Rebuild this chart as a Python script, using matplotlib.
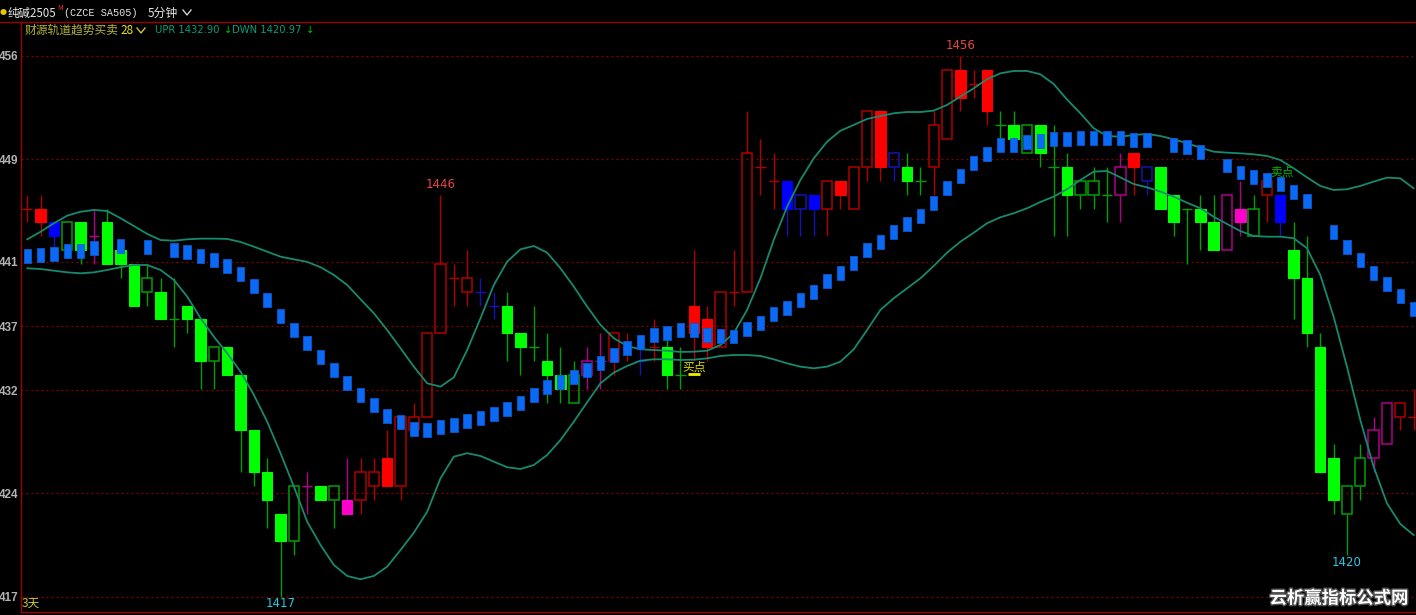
import numpy as np
import matplotlib
matplotlib.use("Agg")
import matplotlib.pyplot as plt
from matplotlib.lines import Line2D
import matplotlib.patheffects as pe

plt.rcParams["font.family"] = ["Noto Sans CJK SC", "DejaVu Sans"]

# K线数据 (纯碱2505 5分钟)
opens = [1445, 1445, 1444, 1442, 1444, 1443, 1444, 1442, 1441, 1439,
         1439, 1437, 1438, 1437, 1434, 1435, 1433, 1429, 1426, 1423,
         1421, 1425, 1425, 1424, 1424, 1424, 1425, 1427, 1425, 1429,
         1430, 1436, 1440, 1439, 1439, 1438, 1438, 1436, 1435, 1434,
         1433, 1431, 1433, 1434, 1434, 1435, 1434, 1435, 1435, 1433,
         1438, 1437, 1435, 1439, 1439, 1448, 1447, 1447, 1445, 1446,
         1445, 1447, 1445, 1448, 1452, 1448, 1448, 1447, 1448, 1450,
         1455, 1454, 1455, 1451, 1451, 1449, 1451, 1448, 1448, 1446,
         1446, 1446, 1446, 1449, 1447, 1448, 1446, 1445, 1445, 1444,
         1442, 1445, 1443, 1446, 1446, 1442, 1440, 1435, 1427, 1423,
         1425, 1427, 1428, 1430, 1430]
closes = [1445, 1444, 1443, 1444, 1442, 1443, 1441, 1441, 1438, 1440,
          1437, 1437, 1437, 1434, 1435, 1433, 1429, 1426, 1424, 1421,
          1425, 1425, 1424, 1425, 1423, 1426, 1426, 1425, 1430, 1430,
          1436, 1441, 1440, 1440, 1439, 1438, 1436, 1435, 1435, 1433,
          1432, 1433, 1434, 1434, 1436, 1435, 1434, 1435, 1433, 1433,
          1436, 1435, 1439, 1439, 1449, 1448, 1447, 1445, 1446, 1445,
          1447, 1446, 1448, 1452, 1448, 1449, 1447, 1447, 1451, 1455,
          1453, 1454, 1452, 1451, 1450, 1451, 1449, 1448, 1446, 1447,
          1447, 1446, 1448, 1448, 1448, 1445, 1444, 1445, 1444, 1442,
          1446, 1444, 1445, 1447, 1444, 1440, 1436, 1426, 1424, 1425,
          1427, 1429, 1431, 1431, 1430]
highs = [1446, 1446, 1444, 1444, 1444, 1445, 1445, 1442, 1441, 1441,
         1440, 1440, 1438, 1437, 1435, 1435, 1433, 1429, 1427, 1423,
         1425, 1426, 1425, 1425, 1427, 1427, 1427, 1429, 1430, 1431,
         1436, 1446, 1441, 1442, 1440, 1439, 1439, 1436, 1438, 1436,
         1435, 1434, 1435, 1436, 1436, 1436, 1435, 1437, 1436, 1435,
         1442, 1438, 1439, 1442, 1452, 1450, 1449, 1447, 1446, 1446,
         1447, 1447, 1448, 1452, 1452, 1449, 1449, 1448, 1452, 1455,
         1456, 1455, 1455, 1452, 1452, 1451, 1451, 1451, 1449, 1447,
         1448, 1448, 1449, 1449, 1448, 1448, 1446, 1445, 1446, 1446,
         1446, 1447, 1446, 1447, 1446, 1444, 1443, 1436, 1428, 1425,
         1428, 1430, 1431, 1431, 1432]
lows = [1444, 1443, 1442, 1442, 1441, 1441, 1441, 1440, 1438, 1438,
        1437, 1435, 1436, 1432, 1432, 1433, 1426, 1425, 1422, 1417,
        1420, 1423, 1424, 1422, 1423, 1423, 1424, 1425, 1424, 1429,
        1430, 1436, 1438, 1438, 1438, 1437, 1434, 1433, 1434, 1431,
        1431, 1431, 1432, 1432, 1433, 1434, 1433, 1434, 1432, 1432,
        1434, 1434, 1435, 1438, 1439, 1446, 1445, 1443, 1443, 1443,
        1443, 1445, 1445, 1447, 1447, 1447, 1446, 1446, 1446, 1450,
        1452, 1453, 1451, 1450, 1450, 1449, 1448, 1443, 1443, 1445,
        1445, 1444, 1444, 1446, 1446, 1445, 1443, 1441, 1442, 1442,
        1442, 1443, 1443, 1444, 1443, 1437, 1435, 1426, 1423, 1420,
        1424, 1426, 1428, 1429, 1429]
# 趋势着色: g绿 r红 b蓝 m紫
trend_colors = ("rrbggmgggg" "gggggggggg" "gmggmrrrrr" "rrrrbbgggg"
                "ggmmrrbrgg" "rrrrrrrbbb" "rrrrrbggrr" "rrrggggggg"
                "ggmrbggggg" "mmgrbggggg" "gmmrr")

# 轨道线
upper = [1442.78, 1443.33, 1443.94, 1444.49, 1444.77, 1444.90, 1444.82, 1444.30, 1443.74, 1443.17,
         1442.73, 1442.68, 1442.78, 1442.83, 1442.83, 1442.81, 1442.59, 1442.25, 1441.89, 1441.53,
         1441.34, 1441.15, 1440.77, 1440.21, 1439.49, 1438.46, 1437.45, 1436.24, 1434.93, 1433.60,
         1432.40, 1432.16, 1432.83, 1434.80, 1437.09, 1439.49, 1441.17, 1442.06, 1442.30, 1441.82,
         1440.69, 1439.37, 1437.93, 1436.61, 1435.65, 1435.09, 1434.85, 1434.80, 1434.75, 1434.66,
         1434.68, 1434.75, 1435.16, 1436.01, 1437.69, 1439.97, 1442.73, 1445.13, 1447.06, 1448.62,
         1449.82, 1450.61, 1451.03, 1451.46, 1451.67, 1451.87, 1451.96, 1451.96, 1452.06, 1452.47,
         1453.07, 1453.67, 1454.32, 1454.75, 1454.92, 1454.92, 1454.68, 1453.98, 1452.86, 1451.87,
         1450.79, 1450.23, 1450.18, 1450.30, 1450.38, 1450.23, 1449.99, 1449.71, 1449.39, 1449.10,
         1449.03, 1448.98, 1448.91, 1448.79, 1448.50, 1447.90, 1447.25, 1446.63, 1446.34, 1446.39,
         1446.63, 1446.94, 1447.23, 1447.18, 1446.46]
lower = [1440.69, 1440.64, 1440.52, 1440.40, 1440.33, 1440.40, 1440.57, 1440.77, 1440.93, 1440.93,
         1440.57, 1439.85, 1438.65, 1437.09, 1435.76, 1434.56, 1433.24, 1431.56, 1429.63, 1427.36,
         1424.95, 1422.42, 1420.74, 1419.30, 1418.51, 1418.27, 1418.51, 1419.18, 1420.38, 1421.63,
         1423.14, 1425.55, 1427.11, 1427.36, 1427.16, 1426.75, 1426.35, 1426.22, 1426.51, 1427.23,
         1428.31, 1429.63, 1431.03, 1432.40, 1433.17, 1433.65, 1434.03, 1434.13, 1434.13, 1434.08,
         1434.10, 1434.20, 1434.37, 1434.44, 1434.44, 1434.37, 1434.13, 1433.84, 1433.60, 1433.48,
         1433.60, 1433.96, 1434.85, 1436.24, 1437.69, 1438.53, 1439.25, 1439.97, 1440.86, 1441.82,
         1442.61, 1443.26, 1443.94, 1444.37, 1444.66, 1445.02, 1445.47, 1445.86, 1446.39, 1447.06,
         1447.66, 1447.71, 1447.25, 1446.77, 1446.53, 1446.22, 1445.86, 1445.42, 1445.02, 1444.41,
         1443.89, 1443.38, 1443.02, 1442.97, 1442.97, 1442.86, 1442.14, 1440.21, 1437.20, 1433.60,
         1429.76, 1426.39, 1423.75, 1422.26, 1421.46]
# 趋势方块 (None = 不显示)
trend = [1441.56, 1441.63, 1441.72, 1441.96, 1441.96, 1442.18, None, 1442.30, None, 1442.23,
         None, 1441.99, 1441.87, 1441.58, 1441.27, 1440.84, 1440.31, 1439.39, 1438.39, 1437.23,
         1436.24, 1435.28, 1434.32, 1433.38, 1432.45, 1431.56, 1430.81, 1430.04, 1429.59, 1429.13,
         1429.06, 1429.25, 1429.42, 1429.71, 1429.90, 1430.21, 1430.53, 1430.98, 1431.54, 1432.11,
         1432.50, 1432.88, 1433.38, 1433.84, 1434.46, 1434.95, 1435.40, 1435.86, 1436.03, 1436.22,
         1436.22, 1435.90, 1435.83, 1435.77, 1436.32, 1436.77, 1437.38, 1437.83, 1438.39, 1438.98,
         1439.76, 1440.38, 1441.10, 1441.99, 1442.59, 1443.29, 1443.91, 1444.49, 1445.38, 1446.51,
         1447.35, 1448.31, 1448.93, 1449.56, 1449.60, 1449.78, 1449.87, 1449.99, 1449.99, 1450.09,
         1450.09, 1450.09, 1450.09, 1449.92, 1449.92, None, 1449.56, 1449.44, 1449.08, None,
         1448.10, 1447.60, 1447.28, 1447.06, 1446.75, 1446.19, 1445.52, None, 1443.31, 1442.25,
         1441.27, 1440.38, 1439.54, 1438.70, 1437.78]

grid_vals = [1456, 1448.57, 1441.15, 1436.53, 1431.91, 1424.49, 1417]
grid_labels = ["456", "449", "441", "437", "432", "424", "417"]

fill_col = {"g": "#00ff00", "r": "#ff0000", "b": "#0000ff", "m": "#ff00cc"}
line_col = {"g": "#00a000", "r": "#b00000", "b": "#1414b4", "m": "#b0008c"}

W, H = 1416, 615
fig = plt.figure(figsize=(W / 100, H / 100), dpi=100, facecolor="black")
ax = fig.add_axes([21 / W, 3 / H, 1 - 21 / W, 590 / H], facecolor="black")

n = len(opens)
x = np.arange(n)
bw = 0.78

# 网格
for g in grid_vals:
    ax.axhline(g, color="#8c0000", lw=0.9, ls=(0, (1.5, 2.5)), zorder=1)

# K线
for i in range(n):
    o, c, h, l = opens[i], closes[i], highs[i], lows[i]
    k = trend_colors[i]
    top, bot = max(o, c), min(o, c)
    if o == c:
        ax.vlines(i, l, h, color=line_col[k], lw=1, zorder=2)
        ax.hlines(o, i - bw / 2, i + bw / 2, color=line_col[k], lw=1, zorder=2)
        continue
    if h > top:
        ax.vlines(i, top, h, color=line_col[k], lw=1, zorder=2)
    if l < bot:
        ax.vlines(i, l, bot, color=line_col[k], lw=1, zorder=2)
    if o > c:
        ax.bar(i, top - bot, bottom=bot, width=bw, color=fill_col[k],
               edgecolor=fill_col[k], lw=0.8, zorder=3)
    else:
        ax.bar(i, top - bot, bottom=bot, width=bw, facecolor="none",
               edgecolor=line_col[k], lw=1.1, zorder=3)

# 轨道
ax.plot(x, upper, color="#178a6e", lw=1.3, zorder=4)
ax.plot(x, lower, color="#178a6e", lw=1.3, zorder=4)

# 趋势方块
tx = [i for i in range(n) if trend[i] is not None]
tv = [trend[i] for i in tx]
ax.bar(tx, [1.0] * len(tx), bottom=[v - 0.5 for v in tv], width=0.56,
       color="#0a6af5", edgecolor="#0a5ad0", lw=0.6, zorder=5)

# 买卖点
ax.text(50, 1433.55, "买点", color="#e0e000", fontsize=8.5, ha="center",
        va="center", zorder=6)
ax.hlines(1433.05, 49.55, 50.5, color="#f0f000", lw=2, zorder=6)
ax.text(94.1, 1447.6, "卖点", color="#00b400", fontsize=8.5, ha="center",
        va="center", zorder=4.5)

# 高低点标注
ax.text(31, 1446.27, "1446", color="#e84646", fontsize=8.5, ha="center",
        va="bottom", family="DejaVu Sans", zorder=6)
ax.text(70, 1456.27, "1456", color="#e84646", fontsize=8.5, ha="center",
        va="bottom", family="DejaVu Sans", zorder=6)
ax.text(19, 1416.5, "1417", color="#28c8e0", fontsize=8.5, ha="center",
        va="center", family="DejaVu Sans", zorder=6)
ax.text(99, 1419.45, "1420", color="#28c8e0", fontsize=8.5, ha="center",
        va="center", family="DejaVu Sans", zorder=6)

ax.set_xlim(-0.47, 104.18)
ax.set_ylim(1415.91, 1458.45)
ax.set_xticks([])
ax.set_yticks(grid_vals)
ax.set_yticklabels(grid_labels, fontweight="bold", family="Liberation Sans")
ax.tick_params(axis="y", length=0, pad=2, colors="#b4b4b4", labelsize=8.5)
for s in ["top", "right"]:
    ax.spines[s].set_visible(False)
for s in ["left", "bottom"]:
    ax.spines[s].set_color("#a00000")
    ax.spines[s].set_linewidth(1)

# 顶部标题
def fy(py):
    return 1 - py / H

fig.add_artist(Line2D([0, 1], [fy(22), fy(22)], color="#9a0000", lw=1))
fig.text(0 / W, fy(13), "●", color="#e6c800", fontsize=5, va="center")
fig.text(8 / W, fy(13), "纯碱2505", color="#e6e6e6", fontsize=8.3, va="center")
fig.text(57 / W, fy(8), "M", color="#ff3030", fontsize=5, va="center")
fig.text(64 / W, fy(13), "(CZCE SA505)", color="#e6e6e6", fontsize=7.3,
         va="center", family="Liberation Mono")
fig.text(148 / W, fy(13), "5分钟", color="#e6e6e6", fontsize=8.5, va="center")
fig.add_artist(Line2D([183 / W, 187 / W, 191 / W], [fy(10), fy(15), fy(10)],
                      color="#d0d0d0", lw=1))

fig.text(25 / W, fy(30), "财源轨道趋势买卖", color="#b4b43c", fontsize=8.5, va="center")
fig.text(120 / W, fy(30), "28", color="#e6e600", fontsize=8.5, va="center")
fig.add_artist(Line2D([137 / W, 141 / W, 145 / W], [fy(28), fy(33), fy(28)],
                      color="#c8c828", lw=1))
fig.text(155 / W, fy(30), "UPR 1432.90", color="#00a07c", fontsize=7.2,
         va="center", family="DejaVu Sans")
fig.text(224 / W, fy(30), "↓", color="#00c000", fontsize=7.2, va="center",
         family="DejaVu Sans")
fig.text(232 / W, fy(30), "DWN 1420.97", color="#00a07c", fontsize=7.2,
         va="center", family="DejaVu Sans")
fig.text(306 / W, fy(30), "↓", color="#00c000", fontsize=7.2, va="center",
         family="DejaVu Sans")

fig.text(22 / W, fy(603.5), "3天", color="#c8c832", fontsize=8.5, va="center")
fig.text(1339 / W, fy(598.5), "云析赢指标公式网", color="white", fontsize=12.5,
         fontweight="bold", ha="center", va="center",
         path_effects=[pe.withStroke(linewidth=2, foreground="#505050")])

fig.savefig("out.png", dpi=100, facecolor="black")
